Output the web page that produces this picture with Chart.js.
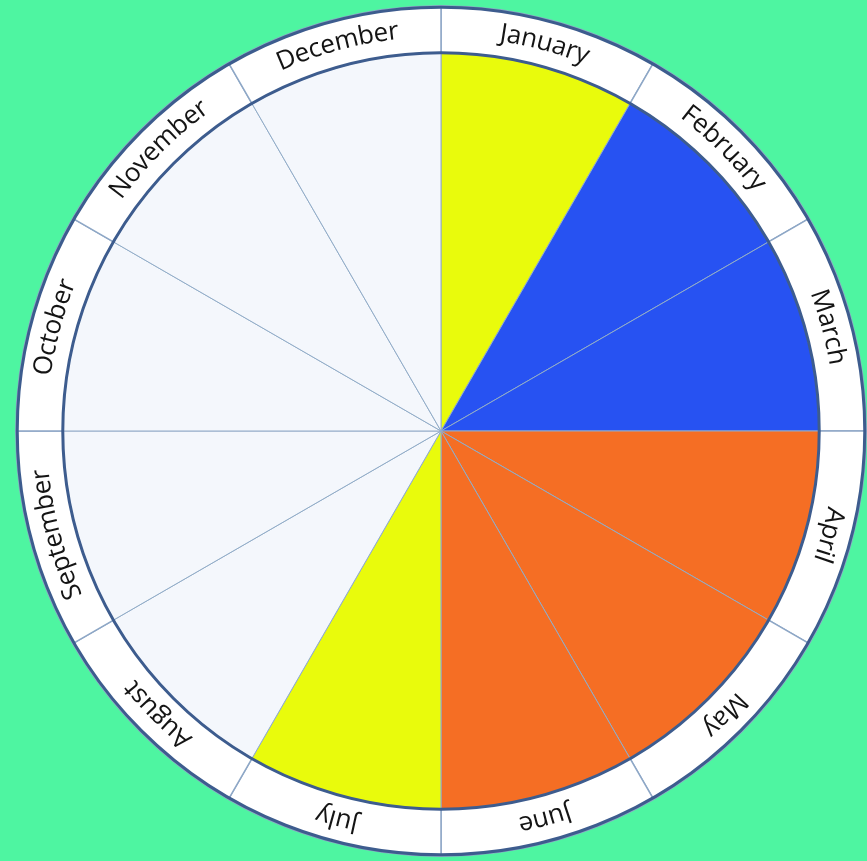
<!DOCTYPE html>
<html>
<head>
<meta charset="utf-8">
<script src="https://cdn.jsdelivr.net/npm/chart.js@4.4.1/dist/chart.umd.min.js"></script>
<style>
  html, body { margin:0; padding:0; width:867px; height:861px; overflow:hidden; background:#4ef5a1; }
  #wrap { position:absolute; left:15px; top:5px; width:852px; height:852px; }
</style>
</head>
<body>
<div id="wrap"><canvas id="wheel" width="852" height="852"></canvas></div>
<script>
// Month wheel — 12 equal slices, coloured by season

const months = ['January','February','March','April','May','June','July','August','September','October','November','December'];
const ringValues = [1,1,1,1,1,1,1,1,1,1,1,1];
const pieValues  = [1,1,1,1,1,1,1,1,1,1,1,1];
const pieColors  = ['#e9fb0c','#2752f2','#2752f2','#f56e24','#f56e24','#f56e24','#e9fb0c','#f4f7fc','#f4f7fc','#f4f7fc','#f4f7fc','#f4f7fc'];

// dark rims + curved month names, drawn off the ring arcs
const ringLabels = {
  id: 'ringLabels',
  afterDatasetsDraw(chart) {
    const ctx = chart.ctx;
    const arcs = chart.getDatasetMeta(0).data;
    if(!arcs.length) return;
    const cx = arcs[0].x, cy = arcs[0].y;
    const rOut = arcs[0].outerRadius, rIn = arcs[0].innerRadius;

    ctx.save();
    ctx.strokeStyle = '#3d5c8e';
    ctx.lineWidth = 3;
    ctx.beginPath(); ctx.arc(cx, cy, rOut - 1.5, 0, Math.PI*2); ctx.stroke();
    ctx.beginPath(); ctx.arc(cx, cy, rIn, 0, Math.PI*2); ctx.stroke();

    ctx.font = '26px "Open Sans"';
    ctx.fillStyle = '#141414';
    ctx.textAlign = 'center';
    ctx.textBaseline = 'middle';
    const r = (rOut + rIn) / 2;
    arcs.forEach((a, i) => {
      const txt = months[i];
      const mid = (a.startAngle + a.endAngle) / 2;
      const total = ctx.measureText(txt).width;
      let ang = mid - total / (2*r);
      for(const ch of txt) {
        const w = ctx.measureText(ch).width;
        const th = ang + w / (2*r);
        ctx.save();
        ctx.translate(cx + r*Math.cos(th), cy + r*Math.sin(th));
        ctx.rotate(th + Math.PI/2);
        ctx.fillText(ch, 0, 0);
        ctx.restore();
        ang += w / r;
      }
    });
    ctx.restore();
  }
};

new Chart(document.getElementById('wheel').getContext('2d'), {
  type: 'pie',
  data: {
    labels: months,
    datasets: [
      { data: ringValues, backgroundColor: '#ffffff', borderColor: '#8ea7c6', borderWidth: 1.5, weight: 47 },
      { data: pieValues, backgroundColor: pieColors, borderColor: '#93abc8', borderWidth: 1, weight: 378 }
    ]
  },
  options: {
    responsive: false,
    animation: false,
    events: [],
    plugins: { legend: {display:false}, tooltip: {enabled:false} }
  },
  plugins: [ringLabels]
});
</script>
</body>
</html>
